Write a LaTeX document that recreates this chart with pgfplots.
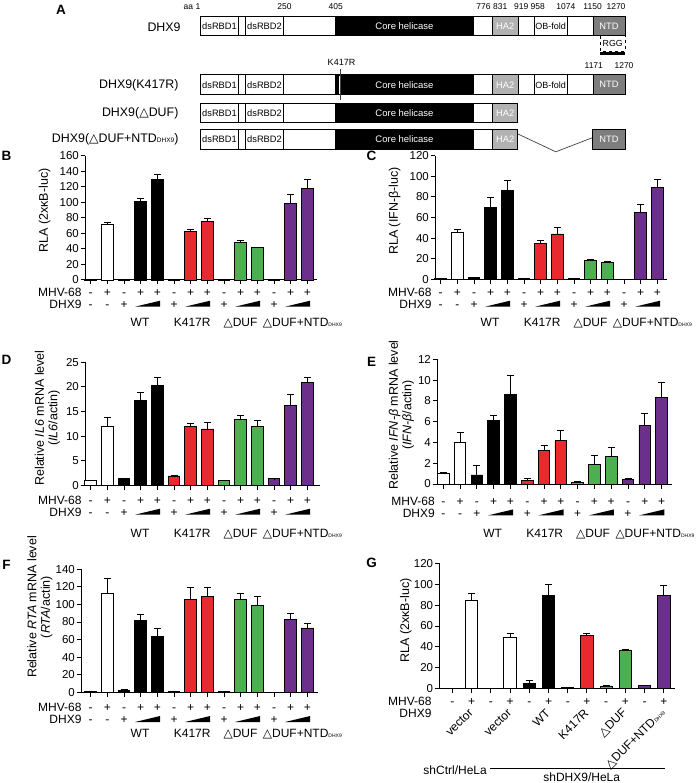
\documentclass[border=0pt]{standalone}
\usepackage{pgfplots}
\pgfplotsset{compat=1.18}
\usepackage{fontspec}
\setmainfont{Liberation Sans}
\newfontfamily\sym{DejaVu Sans}
\definecolor{myred}{RGB}{232,41,46}
\definecolor{mygreen}{RGB}{76,176,80}
\definecolor{mypurple}{RGB}{108,48,140}
\definecolor{hagray}{RGB}{178,178,178}
\definecolor{ntdgray}{RGB}{125,125,125}
\newcommand{\tri}{{\sym\char"25B3}}
\newcommand{\dsub}[1]{{\fontsize{5}{5}\selectfont #1}}
\newcommand{\asub}[1]{{\fontsize{6.5}{6.5}\selectfont #1}}
\newcommand{\pLab}{\fontsize{12}{13}\selectfont}
\newcommand{\pTick}{\fontsize{11.5}{12}\selectfont}
\newcommand{\pYlab}{\fontsize{12.5}{13.5}\selectfont}
\newcommand{\pDom}{\fontsize{9.3}{10}\selectfont}
\newcommand{\pLetter}{\fontsize{13.5}{14}\selectfont\bfseries}

\pgfplotsset{
  panel/.style={
    scale only axis, clip=false, anchor=south west,
    axis x line=bottom, axis y line=left,
    axis line style={-, line width=1pt},
    ymin=0, tick align=outside, major tick length=4.5pt,
    every tick/.style={black, line width=1pt},
    xticklabels={},
    yticklabel style={font=\pTick, inner sep=1.5pt},
    /pgf/number format/assume math mode=true,
  },
  mybar/.style 2 args={ybar, bar width=#2, bar shift=0pt, draw=black, line width=0.9pt, fill=#1,
    error bars/.cd, y dir=plus, y explicit,
    error bar style={line width=0.9pt, black},
    error mark options={rotate=90, mark size=3.5pt, line width=0.9pt, black}},
}

% rows of +/- for 14-bar panels: x0, dx, yMHV, yDHX, label right edge
\newcommand{\rowsXIV}[5]{%
  \node[anchor=base east,font=\pLab,inner sep=0pt] at (#5,#3+4.3) {MHV-68};
  \node[anchor=base east,font=\pLab,inner sep=0pt] at (#5,#4+4.3) {DHX9};
  \foreach \s [count=\i from 0] in {-,+,-,+,+,-,+,+,-,+,+,-,+,+}
    \node[anchor=base,font=\pLab,inner sep=0pt] at ({#1+\i*#2},#3+4.3) {\s};
  \foreach \i/\s in {0/-,1/-,2/+,5/+,8/+,11/+}
    \node[anchor=base,font=\pLab,inner sep=0pt] at ({#1+\i*#2},#4+4.3) {\s};
  \foreach \a in {3,6,9,12}
    \fill ({#1+\a*#2-5.7},{#4+2.7}) -- ({#1+(\a+1)*#2+2.7},{#4+2.7}) -- ({#1+(\a+1)*#2+2.7},{#4-3.3}) -- cycle;
}
% group labels: x0, y
\newcommand{\groupsXIV}[2]{%
  \node[anchor=base,font=\pLab,inner sep=0pt] at (#1+49.3,#2+4.3) {WT};
  \node[anchor=base,font=\pLab,inner sep=0pt] at (#1+101.5,#2+4.3) {K417R};
  \node[anchor=base,font=\pLab,inner sep=0pt] at (#1+149.8,#2+4.3) {\tri DUF};
  \node[anchor=base west,font=\pLab,inner sep=0pt] at (#1+172,#2+4.3) {\tri DUF+NTD\dsub{DHX9}};
}
% domain rows: y1 y2 ym
\newcommand{\fullrow}[3]{%
  \fill[white] (200.9,#1) rectangle (625,#2);
  \fill[black] (334.8,#1) rectangle (474.1,#2);
  \fill[hagray] (492.4,#1) rectangle (517.9,#2);
  \fill[ntdgray] (592.9,#1) rectangle (625,#2);
  \draw[line width=0.6pt] (238,#1)--(238,#2) (245.5,#1)--(245.5,#2) (283.5,#1)--(283.5,#2)
     (492.4,#1)--(492.4,#2) (517.9,#1)--(517.9,#2) (534.4,#1)--(534.4,#2) (567,#1)--(567,#2) (592.9,#1)--(592.9,#2);
  \draw[line width=1pt] (200.9,#1) rectangle (625,#2);
  \node[font=\pDom,inner sep=0pt] at (219.5,#3) {dsRBD1};
  \node[font=\pDom,inner sep=0pt] at (264.5,#3) {dsRBD2};
  \node[font=\fontsize{9.5}{10}\selectfont,white,inner sep=0pt] at (404.5,#3) {Core helicase};
  \node[font=\pDom,white,inner sep=0pt] at (505.2,#3) {HA2};
  \node[font=\fontsize{9}{10}\selectfont,inner sep=0pt] at (550.7,#3) {OB-fold};
  \node[font=\pDom,white,inner sep=0pt] at (609,#3) {NTD};
}
\newcommand{\shortrow}[3]{%
  \fill[white] (200.9,#1) rectangle (517.9,#2);
  \fill[black] (334.8,#1) rectangle (474.1,#2);
  \fill[hagray] (492.4,#1) rectangle (517.9,#2);
  \draw[line width=0.6pt] (238,#1)--(238,#2) (245.5,#1)--(245.5,#2) (283.5,#1)--(283.5,#2)
     (492.4,#1)--(492.4,#2);
  \draw[line width=1pt] (200.9,#1) rectangle (517.9,#2);
  \node[font=\pDom,inner sep=0pt] at (219.5,#3) {dsRBD1};
  \node[font=\pDom,inner sep=0pt] at (264.5,#3) {dsRBD2};
  \node[font=\fontsize{9.5}{10}\selectfont,white,inner sep=0pt] at (404.5,#3) {Core helicase};
  \node[font=\pDom,white,inner sep=0pt] at (505.2,#3) {HA2};
}

\begin{document}
\begin{tikzpicture}
\path[use as bounding box] (0,0) rectangle (700pt,-783pt);
\begin{scope}[x=1pt,y=-1pt]
  % ---------- Panel A ----------
  \node[font=\pLetter] at (61,10) {A};
  \begin{scope}[font=\fontsize{8.5}{9}\selectfont, inner sep=0pt]
    \node at (192,6.7) {aa 1};
    \node at (284.4,6.7) {250};
    \node at (335.7,6.7) {405};
    \node at (483.5,6.7) {776};
    \node at (500.2,6.7) {831};
    \node at (521.2,6.7) {919};
    \node at (537.7,6.7) {958};
    \node at (565.8,6.7) {1074};
    \node at (592.6,6.7) {1150};
    \node at (616,6.7) {1270};
    \node at (593.8,66) {1171};
    \node at (624,66) {1270};
    \node[font=\fontsize{9}{10}\selectfont] at (341.5,62.5) {K417R};
  \end{scope}
  \fullrow{17}{35.7}{26.3}
  \draw[dashed, line width=0.6pt] (600.4,35.7) rectangle (625,51.3);
  \draw[line width=2.5pt] (600.4,53.5) -- (625,53.5);
  \node[font=\fontsize{8.8}{9}\selectfont,inner sep=0pt] at (612.7,43.5) {RGG};
  \fullrow{75}{94.6}{84.8}
  \draw[white, line width=2.4pt] (340.2,75.6) -- (340.2,94);
  \draw[black!75, line width=0.9pt] (340.2,69.2) -- (340.2,100.4);
  \shortrow{103.6}{122.8}{113.2}
  \shortrow{129.5}{149.6}{139.5}
  \draw[black!75, line width=0.7pt] (517.9,134) -- (555.8,151.8) -- (592.9,137.5);
  \fill[ntdgray] (592.9,129.5) rectangle (625,149.6);
  \draw[line width=1pt] (592.9,129.5) rectangle (625,149.6);
  \node[font=\pDom,white,inner sep=0pt] at (609,139.5) {NTD};
  \begin{scope}[font=\fontsize{12.4}{13}\selectfont, inner sep=0pt]
    \node[anchor=east] at (180.8,27.7) {DHX9};
    \node[anchor=east] at (178.6,84.8) {DHX9(K417R)};
    \node[anchor=east] at (178.6,113) {DHX9(\tri DUF)};
    \node[anchor=east] at (178.6,139.3) {DHX9(\tri DUF+NTD\asub{DHX9})};
  \end{scope}

  % ---------- panel letters ----------
  \node[font=\pLetter] at (6.5,155.5) {B};
  \node[font=\pLetter] at (371.5,156) {C};
  \node[font=\pLetter] at (6.5,360) {D};
  \node[font=\pLetter] at (371.5,361.7) {E};
  \node[font=\pLetter] at (6.5,565) {F};
  \node[font=\pLetter] at (371.5,563.3) {G};

  % ---------- y labels ----------
  \node[rotate=90,font=\pYlab] at (44.7,210.5) {RLA (2xκB-luc)};
  \node[rotate=90,font=\pYlab] at (394.7,211) {RLA (IFN-β-luc)};
  \node[rotate=90,font=\pYlab,align=center,inner sep=0pt] at (47.5,418) {Relative \textit{IL6} mRNA level\\(\textit{IL6}/actin)};
  \node[rotate=90,font=\pYlab,align=center,inner sep=0pt] at (401.5,415) {Relative \textit{IFN-β} mRNA level\\(\textit{IFN-β}/actin)};
  \node[rotate=90,font=\pYlab,align=center,inner sep=0pt] at (40,607) {Relative \textit{RTA} mRNA level\\(\textit{RTA}/actin)};
  \node[rotate=90,font=\pYlab] at (406,620.5) {RLA (2xκB-luc)};

  % ---------- rows ----------
  \rowsXIV{90.7}{16.67}{291.7}{304}{81.7}
  \groupsXIV{90.7}{322}
  \rowsXIV{440.7}{16.67}{291.7}{304}{431.7}
  \groupsXIV{440.7}{322}
  \rowsXIV{90.7}{16.67}{500}{512}{81.7}
  \groupsXIV{90.7}{533}
  \rowsXIV{443.3}{16.79}{500.7}{512.7}{435}
  \groupsXIV{443.3}{533}
  \rowsXIV{90.7}{16.67}{706.7}{719.3}{81.7}
  \groupsXIV{90.7}{732.7}

  % G rows
  \node[anchor=base east,font=\pLab,inner sep=0pt] at (431.7,705) {MHV-68};
  \node[anchor=base east,font=\pLab,inner sep=0pt] at (431.7,717.3) {DHX9};
  \foreach \s [count=\i from 0] in {-,+,-,+,-,+,-,+,-,+,-,+}
    \node[anchor=base,font=\pLab,inner sep=0pt] at ({452.3+\i*19.24},705) {\s};
  \foreach \k/\t in {1/vector,3/vector,5/WT,7/K417R,9/\tri DUF,11/\tri DUF+NTD\dsub{DHX9}}
    \node[anchor=east,rotate=45,font=\pLab,inner sep=0pt] at ({452.3+\k*19.24-0.5},711) {\t};
  \node[anchor=east,font=\pLab,inner sep=0pt] at (487,770) {shCtrl/HeLa};
  \draw[line width=0.8pt] (490,768.3) -- (665,768.3);
  \node[font=\pLab,inner sep=0pt] at (581.7,777.3) {shDHX9/HeLa};
\end{scope}

% ---------- Panel B ----------
\begin{axis}[panel, at={(85pt,-280pt)}, width=232pt, height=124.3pt,
  xmin=-0.342, xmax=13.58, ymax=160, xtick={0,...,13}, ytick={0,20,...,160}]
\addplot[mybar={white}{11.7pt}] coordinates {(0,1) +- (0,0.3) (1,72) +- (0,2.5)};
\addplot[mybar={black}{11.7pt}] coordinates {(2,0.6) +- (0,0) (3,101) +- (0,4) (4,130) +- (0,5.5)};
\addplot[mybar={myred}{11.7pt}] coordinates {(5,0.3) +- (0,0) (6,63) +- (0,2) (7,75) +- (0,4)};
\addplot[mybar={mygreen}{11.7pt}] coordinates {(8,0.3) +- (0,0) (9,48) +- (0,3) (10,42) +- (0,0.5)};
\addplot[mybar={mypurple}{11.7pt}] coordinates {(11,0.3) +- (0,0) (12,98) +- (0,12) (13,118) +- (0,12)};
\end{axis}

% ---------- Panel C ----------
\begin{axis}[panel, at={(435pt,-279.3pt)}, width=232pt, height=123.6pt,
  xmin=-0.342, xmax=13.58, ymax=120, xtick={0,...,13}, ytick={0,20,...,120}]
\addplot[mybar={white}{11.7pt}] coordinates {(0,0.5) +- (0,0) (1,45) +- (0,3.5)};
\addplot[mybar={black}{11.7pt}] coordinates {(2,1.5) +- (0,0.5) (3,70) +- (0,9.6) (4,86) +- (0,10)};
\addplot[mybar={myred}{11.7pt}] coordinates {(5,0.5) +- (0,0) (6,35) +- (0,3) (7,44) +- (0,6)};
\addplot[mybar={mygreen}{11.7pt}] coordinates {(8,0.5) +- (0,0) (9,18.4) +- (0,0.6) (10,16.2) +- (0,0.8)};
\addplot[mybar={mypurple}{11.7pt}] coordinates {(11,0.2) +- (0,0) (12,65) +- (0,8) (13,89) +- (0,8)};
\end{axis}

% ---------- Panel D ----------
\begin{axis}[panel, at={(85pt,-485.3pt)}, width=235pt, height=123pt,
  xmin=-0.342, xmax=13.76, ymax=25, xtick={0,...,13}, ytick={0,5,...,25}]
\addplot[mybar={white}{11.7pt}] coordinates {(0,0.95) +- (0,0.1) (1,12.06) +- (0,1.7)};
\addplot[mybar={black}{11.7pt}] coordinates {(2,1.4) +- (0,0) (3,17.3) +- (0,1.5) (4,20.3) +- (0,1.6)};
\addplot[mybar={myred}{11.7pt}] coordinates {(5,1.9) +- (0,0.1) (6,12) +- (0,0.6) (7,11.45) +- (0,1.35)};
\addplot[mybar={mygreen}{11.7pt}] coordinates {(8,0.95) +- (0,0.05) (9,13.35) +- (0,0.75) (10,11.9) +- (0,1.3)};
\addplot[mybar={mypurple}{11.7pt}] coordinates {(11,1.3) +- (0,0.05) (12,16.3) +- (0,2.2) (13,20.9) +- (0,1.1)};
\end{axis}

% ---------- Panel E ----------
\begin{axis}[panel, at={(437pt,-484pt)}, width=235pt, height=124.7pt,
  xmin=-0.375, xmax=13.62, ymax=12, xtick={0,...,13}, ytick={0,2,...,12}]
\addplot[mybar={white}{11.7pt}] coordinates {(0,1.0) +- (0,0.1) (1,3.98) +- (0,1.0)};
\addplot[mybar={black}{11.7pt}] coordinates {(2,0.87) +- (0,0.89) (3,6.13) +- (0,0.45) (4,8.66) +- (0,1.8)};
\addplot[mybar={myred}{11.7pt}] coordinates {(5,0.32) +- (0,0.18) (6,3.24) +- (0,0.45) (7,4.2) +- (0,0.93)};
\addplot[mybar={mygreen}{11.7pt}] coordinates {(8,0.19) +- (0,0.1) (9,1.9) +- (0,0.8) (10,2.69) +- (0,0.84)};
\addplot[mybar={mypurple}{11.7pt}] coordinates {(11,0.42) +- (0,0.09) (12,5.67) +- (0,1.13) (13,8.3) +- (0,1.5)};
\end{axis}

% ---------- Panel F ----------
\begin{axis}[panel, at={(81pt,-692.3pt)}, width=237pt, height=123pt,
  xmin=-0.58, xmax=13.64, ymax=140, xtick={0,...,13}, ytick={0,20,...,140}]
\addplot[mybar={white}{11.7pt}] coordinates {(0,1.5) +- (0,0) (1,112.8) +- (0,17)};
\addplot[mybar={black}{11.7pt}] coordinates {(2,2.5) +- (0,0.5) (3,81.9) +- (0,6.4) (4,63.8) +- (0,9.4)};
\addplot[mybar={myred}{11.7pt}] coordinates {(5,0.5) +- (0,0) (6,106) +- (0,13.6) (7,108.7) +- (0,10.9)};
\addplot[mybar={mygreen}{11.7pt}] coordinates {(8,0.5) +- (0,0) (9,105.7) +- (0,6.8) (10,99.2) +- (0,10.2)};
\addplot[mybar={mypurple}{11.7pt}] coordinates {(11,0.2) +- (0,0) (12,83.4) +- (0,6.8) (13,73.2) +- (0,5.3)};
\end{axis}

% ---------- Panel G ----------
\begin{axis}[panel, at={(439.3pt,-688.7pt)}, width=235.7pt, height=125.4pt,
  xmin=-0.676, xmax=11.58, ymax=120, xtick={0,...,11}, ytick={0,20,...,120}]
\addplot[mybar={white}{12.3pt}] coordinates {(0,0.5) +- (0,0) (1,84.6) +- (0,7) (2,0.5) +- (0,0) (3,49.2) +- (0,3.8)};
\addplot[mybar={black}{12.3pt}] coordinates {(4,5.1) +- (0,2.9) (5,89) +- (0,10.9)};
\addplot[mybar={myred}{12.3pt}] coordinates {(6,1) +- (0,0) (7,50.7) +- (0,2.3)};
\addplot[mybar={mygreen}{12.3pt}] coordinates {(8,2.5) +- (0,0.5) (9,36.7) +- (0,0.6)};
\addplot[mybar={mypurple}{12.3pt}] coordinates {(10,2.9) +- (0,0.3) (11,89.4) +- (0,9.2)};
\end{axis}
\end{tikzpicture}
\end{document}
